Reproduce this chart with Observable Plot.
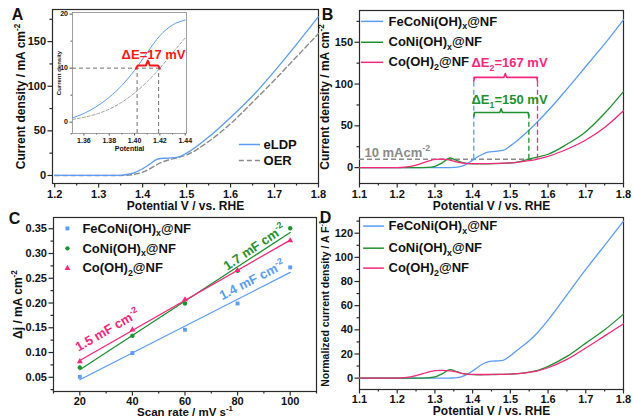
<!DOCTYPE html>
<html><head><meta charset="utf-8">
<script src="https://cdn.jsdelivr.net/npm/d3@7"></script>
<script src="https://cdn.jsdelivr.net/npm/@observablehq/plot@0.6"></script>
<style>
html,body{margin:0;padding:0;background:#fff;}
#fig{position:relative;width:633px;height:418px;overflow:hidden;background:#fff;}
#fig > div{position:absolute;}
#fig svg{display:block;}
</style></head><body><div id="fig"></div>
<script>
// ---------------- DATA ----------------
// Panel A (main)
const aPotential = [1.20, 1.30, 1.35, 1.36, 1.38, 1.40, 1.42, 1.43, 1.44, 1.46, 1.48, 1.50, 1.55, 1.60, 1.65, 1.70, 1.75, 1.80];
const aELDP      = [0, 0, 0.2, 0.8, 3.0, 7.5, 14.0, 17.5, 19.0, 19.5, 20.5, 25.0, 43, 65, 89, 117, 147, 178];
const aOER       = [0, 0, 0.0, 0.2, 1.2, 3.8, 8.5, 11.5, 14.0, 17.5, 20.0, 23.0, 38, 58, 82, 107, 133, 159];
const aLegendNames = ["eLDP", "OER"];
const aLegendY = [34.7, 16.8];
// Panel A inset
const insetPotential = [1.351, 1.36, 1.37, 1.38, 1.39, 1.40, 1.41, 1.42, 1.43, 1.44];
const insetELDP = [0.8, 1.6, 2.9, 4.6, 6.8, 9.6, 12.9, 16.0, 18.0, 18.9];
const insetOER  = [0.5, 0.9, 1.5, 2.4, 3.7, 5.4, 7.5, 10.0, 12.8, 15.6];
const insetRefY = 10;
const insetRefX = [1.402, 1.419];
const insetBraceX = [1.401, 1.4025, 1.409, 1.4105, 1.412, 1.4185, 1.420];
const insetBraceY = [9.9, 10.5, 10.5, 11.4, 10.5, 10.5, 9.9];
const insetDeltaLabel = "ΔE=17 mV";

// Panels B and D share potentials
const potential = [1.10, 1.20, 1.22, 1.25, 1.28, 1.30, 1.32, 1.34, 1.36, 1.38, 1.40, 1.42, 1.44, 1.46, 1.48, 1.50, 1.52, 1.55, 1.57, 1.60, 1.65, 1.70, 1.75, 1.80];
const seriesNames = ["FeCoNi(OH)_{x}@NF", "CoNi(OH)_{x}@NF", "Co(OH)_{2}@NF"];
// Panel B  (current density, mA cm-2)
const bFeCoNi = [0, 0, 0, 0, 0, 0, 0, 0.1, 0.6, 3.2, 9.0, 14.5, 18.5, 19.5, 20.5, 26, 33, 45, 54, 68, 94, 121, 148, 177];
const bCoNi   = [0, 0, 0, 0, 0.3, 1.5, 6.0, 11.5, 8.0, 5.3, 4.6, 4.5, 4.6, 4.8, 5.1, 5.6, 6.6, 10.2, 12.5, 16, 28, 43, 65, 91];
const bCo     = [0, 0, 0.6, 3.0, 7.5, 9.8, 10.2, 9.0, 6.5, 5.2, 4.8, 4.7, 4.8, 5.0, 5.3, 5.7, 6.5, 8.3, 10.0, 13.5, 22, 33, 48, 68];
const bLegendY = [175, 150, 126];
const bRefY = 10;
const bRefLabel = "10 mAcm^{-2}";
const bMarkerX = [1.403, 1.549, 1.572];
const bMarkerTop = [108, 66, 108];
const bBrace2X = [1.403, 1.405, 1.483, 1.4865, 1.490, 1.570, 1.572];
const bBrace2Y = [103.5, 108, 108, 112.5, 108, 108, 103.5];
const bBrace1X = [1.403, 1.405, 1.472, 1.4755, 1.479, 1.547, 1.549];
const bBrace1Y = [61.5, 66, 66, 70.5, 66, 66, 61.5];
const bDeltaLabels = ["ΔE_{2}=167 mV", "ΔE_{1}=150 mV"];
const bDeltaY = [125.8, 81.5];
// Panel C
const scanRate = [20, 40, 60, 80, 100];
const cFeCoNi = [0.051, 0.099, 0.146, 0.199, 0.272];
const cCoNi   = [0.070, 0.134, 0.199, 0.265, 0.351];
const cCo     = [0.082, 0.146, 0.207, 0.266, 0.326];
const cLegendY = [0.3506, 0.3104, 0.2703];
const cSlopeLabels = ["1.4 mF cm^{-2}", "1.7 mF cm^{-2}", "1.5 mF cm^{-2}"];
const cSlopeX = [85.5, 86.4, 30.5];
const cSlopeY = [0.246, 0.3125, 0.145];
const cSlopeAngle = [-27, -34, -30];
// Panel D (normalized current density, A F-1)
const dFeCoNi = [0, 0, 0, 0, 0, 0, 0, 0.1, 0.4, 2.3, 6.0, 10.5, 13.5, 14.2, 14.8, 18.5, 23.5, 31, 37, 48, 69, 90, 110, 130];
const dCoNi   = [0, 0, 0, 0, 0.2, 1.0, 3.8, 7.0, 5.2, 3.3, 2.9, 2.8, 2.9, 3.0, 3.1, 3.3, 3.7, 5.0, 6.2, 9.8, 18, 29, 40, 53];
const dCo     = [0, 0, 0.4, 2.0, 4.8, 6.2, 6.5, 6.1, 4.8, 3.6, 3.1, 3.0, 3.0, 3.1, 3.2, 3.4, 3.8, 4.8, 5.8, 8.6, 15.5, 25, 35, 45];
const dLegendY = [125.9, 107.6, 91.1];

// ticks
const aXTicks = [1.2, 1.3, 1.4, 1.5, 1.6, 1.7, 1.8];
const aXMinor = [1.25, 1.35, 1.45, 1.55, 1.65, 1.75];
const aYTicks = [0, 50, 100, 150];
const aYMinor = [25, 75, 125, 175];
const bXTicks = [1.1, 1.2, 1.3, 1.4, 1.5, 1.6, 1.7, 1.8];
const bXMinor = [1.15, 1.25, 1.35, 1.45, 1.55, 1.65, 1.75];
const bYTicks = [0, 50, 100, 150];
const bYMinor = [25, 75, 125, 175];
const cXTicks = [20, 40, 60, 80, 100];
const cXMinor = [10, 30, 50, 70, 90, 110];
const cYTicks = [0.05, 0.10, 0.15, 0.20, 0.25, 0.30, 0.35];
const cYMinor = [0.025, 0.075, 0.125, 0.175, 0.225, 0.275, 0.325];
const dYTicks = [0, 20, 40, 60, 80, 100, 120];
const dYMinor = [10, 30, 50, 70, 90, 110, 130];
const insXTicks = [1.36, 1.38, 1.40, 1.42, 1.44];
const insXMinor = [1.35, 1.37, 1.39, 1.41, 1.43];
const insYTicks = [0, 10, 20];
const insYMinor = [5, 15];

// ---------------- STYLE ----------------
const FONT = '"Liberation Sans", Arial, Helvetica, sans-serif';
const BLUE = "#5b9cf6", GREEN = "#1f9130", PINK = "#f5287c", GRAY = "#8a8a8a", RED = "#ff1616", AX = "#2a2a2a";
const colors = [BLUE, GREEN, PINK];
const baseStyle = `font-family:${FONT};font-weight:bold;font-size:11px;background:transparent;overflow:visible;color:#111;`;
const rowsOf = (xs, ys) => xs.map((x, i) => ({x, y: ys[i]}));

function axesMarks({xt, xm, yt, ym, xf, yf, major = 4.5, minor = 2.5, fs = 11, sw = 1.2, frameStroke = AX, xpad = 2}) {
  return [
    Plot.axisX({ticks: xm, tickSize: minor, tickFormat: () => "", label: null, stroke: AX, strokeWidth: sw}),
    Plot.axisX({ticks: xt, tickSize: major, tickPadding: xpad, tickFormat: xf, label: null, stroke: AX, strokeWidth: sw, fontSize: fs}),
    Plot.axisY({ticks: ym, tickSize: minor, tickFormat: () => "", label: null, stroke: AX, strokeWidth: sw}),
    Plot.axisY({ticks: yt, tickSize: major, tickPadding: 2, tickFormat: yf, label: null, stroke: AX, strokeWidth: sw, fontSize: fs}),
    Plot.frame({stroke: frameStroke, strokeWidth: sw})
  ];
}
function titles(xLabel, yLabel, ydx, xdy, yfs = 12, xfs = 12) {
  return [
    Plot.text([xLabel], {frameAnchor: "bottom", dy: xdy, text: d => d, textAnchor: "middle", lineAnchor: "middle", fontSize: xfs}),
    Plot.text([yLabel], {frameAnchor: "left", dx: ydx, rotate: -90, text: d => d, textAnchor: "middle", lineAnchor: "middle", fontSize: yfs})
  ];
}
function letter(ch, dx, dy) {
  return Plot.text([ch], {frameAnchor: "top-left", dx, dy, text: d => d, textAnchor: "middle", lineAnchor: "middle", fontSize: 16});
}

function richify(root) {
  const NS = "http://www.w3.org/2000/svg";
  root.querySelectorAll("text").forEach(t => {
    const s = t.textContent;
    if (!/[_^]\{/.test(s)) return;
    const fs = parseFloat(getComputedStyle(t).fontSize) || 11;
    while (t.firstChild) t.removeChild(t.firstChild);
    let cur = 0;
    const add = (str, off, small) => {
      const sp = document.createElementNS(NS, "tspan");
      sp.textContent = str;
      const d = off - cur;
      if (d) sp.setAttribute("dy", d);
      if (small) sp.setAttribute("font-size", (fs * 0.68).toFixed(2));
      cur = off;
      t.appendChild(sp);
    };
    const re = /([_^])\{([^}]*)\}/g; let last = 0, m;
    while ((m = re.exec(s))) {
      if (m.index > last) add(s.slice(last, m.index), 0, false);
      add(m[2], m[1] === "_" ? 0.3 * fs : -0.42 * fs, true);
      last = re.lastIndex;
    }
    if (last < s.length) add(s.slice(last), 0, false);
  });
}
const fig = document.getElementById("fig");
function mount(plot, left, top, w, h) {
  const div = document.createElement("div");
  div.style.cssText = `left:${left}px;top:${top}px;width:${w}px;height:${h}px;`;
  div.appendChild(plot);
  fig.appendChild(div);
  richify(plot);
}

// ---------------- PANEL A ----------------
const legAX1 = 1.62, legAX2 = 1.668, legATX = 1.675;
const plotA = Plot.plot({
  width: 320, height: 210, marginLeft: 52, marginRight: 2, marginTop: 9, marginBottom: 27,
  x: {domain: [1.195, 1.8]}, y: {domain: [-9, 186]}, style: baseStyle,
  marks: [
    ...axesMarks({xt: aXTicks, xm: aXMinor, yt: aYTicks, ym: aYMinor, xf: d3.format(".1f"), yf: d3.format("d")}),
    Plot.line(rowsOf(aPotential, aOER), {x: "x", y: "y", stroke: GRAY, strokeWidth: 1.4, strokeDasharray: "5,3", curve: "monotone-x"}),
    Plot.line(rowsOf(aPotential, aELDP), {x: "x", y: "y", stroke: BLUE, strokeWidth: 1.3, curve: "monotone-x"}),
    Plot.ruleY([aLegendY[0]], {x1: legAX1, x2: legAX2, stroke: BLUE, strokeWidth: 1.5}),
    Plot.ruleY([aLegendY[1]], {x1: legAX1, x2: legAX2, stroke: GRAY, strokeWidth: 1.5, strokeDasharray: "5,3"}),
    Plot.text(aLegendNames, {x: legATX, y: (d, i) => aLegendY[i], text: d => d, textAnchor: "start", lineAnchor: "middle", fontSize: 13}),
    ...titles("Potential V / vs. RHE", "Current density / mA cm^{-2}", -31, 23),
    letter("A", -35, 5)
  ]
});
mount(plotA, 0, 0, 320, 210);

// inset
const plotInset = Plot.plot({
  width: 140, height: 152, marginLeft: 22, marginRight: 4, marginTop: 12, marginBottom: 19,
  x: {domain: [1.351, 1.441]}, y: {domain: [-2.1, 20.3]},
  style: baseStyle.replace("font-size:11px", "font-size:7px"),
  marks: [
    Plot.frame({fill: "white", stroke: "none"}),
    ...axesMarks({xt: insXTicks, xm: insXMinor, yt: insYTicks, ym: insYMinor, xf: d3.format(".2f"), yf: d3.format("d"), major: 2.5, minor: 1.5, fs: 7, sw: 0.8, frameStroke: "#888"}),
    Plot.ruleY([insetRefY], {x1: 1.351, x2: insetRefX[1], stroke: "#707070", strokeWidth: 1, strokeDasharray: "4,3"}),
    Plot.ruleX(insetRefX, {y1: -2.1, y2: insetRefY, stroke: "#707070", strokeWidth: 1, strokeDasharray: "4,3"}),
    Plot.line(rowsOf(insetPotential, insetOER), {x: "x", y: "y", stroke: "#a0a0a0", strokeWidth: 1, strokeDasharray: "3,2", curve: "monotone-x"}),
    Plot.line(rowsOf(insetPotential, insetELDP), {x: "x", y: "y", stroke: BLUE, strokeWidth: 1, curve: "monotone-x"}),
    Plot.line(rowsOf(insetBraceX, insetBraceY), {x: "x", y: "y", stroke: RED, strokeWidth: 2, strokeLinejoin: "round"}),
    Plot.text([insetDeltaLabel], {x: 1.4150, y: 12.4, text: d => d, fill: RED, fontSize: 13, textAnchor: "middle", lineAnchor: "middle"}),
    Plot.text(["Potential"], {frameAnchor: "bottom", dy: 15, text: d => d, fontSize: 7, textAnchor: "middle", lineAnchor: "middle"}),
    Plot.text(["Current density"], {frameAnchor: "left", dx: -13, rotate: -90, text: d => d, fontSize: 6, textAnchor: "middle", lineAnchor: "middle"})
  ]
});
mount(plotInset, 50, 0, 140, 152);

// ---------------- PANEL B ----------------
const legX1 = 1.105, legX2 = 1.164, legTX = 1.177;
const bSeries = [bFeCoNi, bCoNi, bCo];
const plotB = Plot.plot({
  width: 317, height: 210, marginLeft: 43, marginRight: 10, marginTop: 10, marginBottom: 27,
  x: {domain: [1.1, 1.8]}, y: {domain: [-19, 188]}, style: baseStyle,
  marks: [
    ...axesMarks({xt: bXTicks, xm: bXMinor, yt: bYTicks, ym: bYMinor, xf: d3.format(".1f"), yf: d3.format("d")}),
    Plot.ruleY([bRefY], {x1: 1.1, x2: bMarkerX[2], stroke: GRAY, strokeWidth: 1.3, strokeDasharray: "5,3"}),
    ...bSeries.map((ys, i) => Plot.line(rowsOf(potential, ys), {x: "x", y: "y", stroke: colors[i], strokeWidth: 1.3, curve: "monotone-x"})),
    ...bMarkerX.map((x, i) => Plot.ruleX([x], {y1: bRefY, y2: bMarkerTop[i], stroke: colors[i], strokeWidth: 1.3, strokeDasharray: "5,3"})),
    Plot.line(rowsOf(bBrace2X, bBrace2Y), {x: "x", y: "y", stroke: PINK, strokeWidth: 1.6, strokeLinejoin: "round"}),
    Plot.line(rowsOf(bBrace1X, bBrace1Y), {x: "x", y: "y", stroke: GREEN, strokeWidth: 1.6, strokeLinejoin: "round"}),
    Plot.text([bDeltaLabels[0]], {x: 1.397, y: bDeltaY[0], text: d => d, fill: PINK, fontSize: 13, textAnchor: "start", lineAnchor: "middle"}),
    Plot.text([bDeltaLabels[1]], {x: 1.397, y: bDeltaY[1], text: d => d, fill: GREEN, fontSize: 13, textAnchor: "start", lineAnchor: "middle"}),
    Plot.text([bRefLabel], {x: 1.113, y: 18, text: d => d, fill: GRAY, fontSize: 13, textAnchor: "start", lineAnchor: "middle"}),
    ...seriesNames.map((s, i) => Plot.ruleY([bLegendY[i]], {x1: legX1, x2: legX2, stroke: colors[i], strokeWidth: 1.5})),
    Plot.text(seriesNames, {x: legTX, y: (d, i) => bLegendY[i], text: d => d, textAnchor: "start", lineAnchor: "middle", fontSize: 13}),
    ...titles("Potential V / vs. RHE", "Current density / mA cm^{-2}", -34, 23),
    letter("B", -32, 4)
  ]
});
mount(plotB, 316, 0, 317, 210);

// ---------------- PANEL C ----------------
const cSeries = [cFeCoNi, cCoNi, cCo];
const symbols = ["square", "circle", "triangle"];
const plotC = Plot.plot({
  width: 320, height: 213, marginLeft: 53, marginRight: 4, marginTop: 12, marginBottom: 27,
  x: {domain: [10, 110]}, y: {domain: [0.0213, 0.3727]}, symbol: {type: "identity"}, style: baseStyle,
  marks: [
    ...axesMarks({xt: cXTicks, xm: cXMinor, yt: cYTicks, ym: cYMinor, xf: d3.format("d"), yf: d3.format(".2f"), xpad: 1}),
    ...cSeries.map((ys, i) => Plot.linearRegressionY(rowsOf(scanRate, ys), {x: "x", y: "y", stroke: colors[i], strokeWidth: 1.3, ci: 0})),
    ...cSeries.map((ys, i) => Plot.dot(rowsOf(scanRate, ys), {x: "x", y: "y", fill: colors[i], stroke: "none", symbol: () => symbols[i], r: 2.2})),
    ...seriesNames.map((s, i) => Plot.dot([cLegendY[i]], {x: () => 15.3, y: d => d, fill: colors[i], stroke: "none", symbol: () => symbols[i], r: 2.2})),
    Plot.text(seriesNames, {x: 21, y: (d, i) => cLegendY[i], text: d => d, textAnchor: "start", lineAnchor: "middle", fontSize: 13}),
    ...cSlopeLabels.map((s, i) => Plot.text([s], {x: cSlopeX[i], y: cSlopeY[i], text: d => d, fill: colors[i], rotate: cSlopeAngle[i], fontSize: 13, textAnchor: "middle", lineAnchor: "middle"})),
    ...titles("Scan rate / mV s^{-1}", "Δj / mA cm^{-2}", -35, 20.5, 12, 11.5),
    letter("C", -39, 1)
  ]
});
mount(plotC, 0, 205, 320, 213);

// ---------------- PANEL D ----------------
const dSeries = [dFeCoNi, dCoNi, dCo];
const plotD = Plot.plot({
  width: 317, height: 213, marginLeft: 43, marginRight: 10, marginTop: 12, marginBottom: 29,
  x: {domain: [1.1, 1.8]}, y: {domain: [-9.4, 133]}, style: baseStyle,
  marks: [
    ...axesMarks({xt: bXTicks, xm: bXMinor, yt: dYTicks, ym: dYMinor, xf: d3.format(".1f"), yf: d3.format("d"), xpad: 1}),
    ...dSeries.map((ys, i) => Plot.line(rowsOf(potential, ys), {x: "x", y: "y", stroke: colors[i], strokeWidth: 1.3, curve: "monotone-x"})),
    ...seriesNames.map((s, i) => Plot.ruleY([dLegendY[i]], {x1: 1.111, x2: 1.166, stroke: colors[i], strokeWidth: 1.5})),
    Plot.text(seriesNames, {x: legTX, y: (d, i) => dLegendY[i], text: d => d, textAnchor: "start", lineAnchor: "middle", fontSize: 13}),
    ...titles("Potential V / vs. RHE", "Normalized current density / A F^{-1}", -34, 22, 10.5),
    letter("D", -34, 0)
  ]
});
mount(plotD, 316, 205, 317, 213);
</script></body></html>
